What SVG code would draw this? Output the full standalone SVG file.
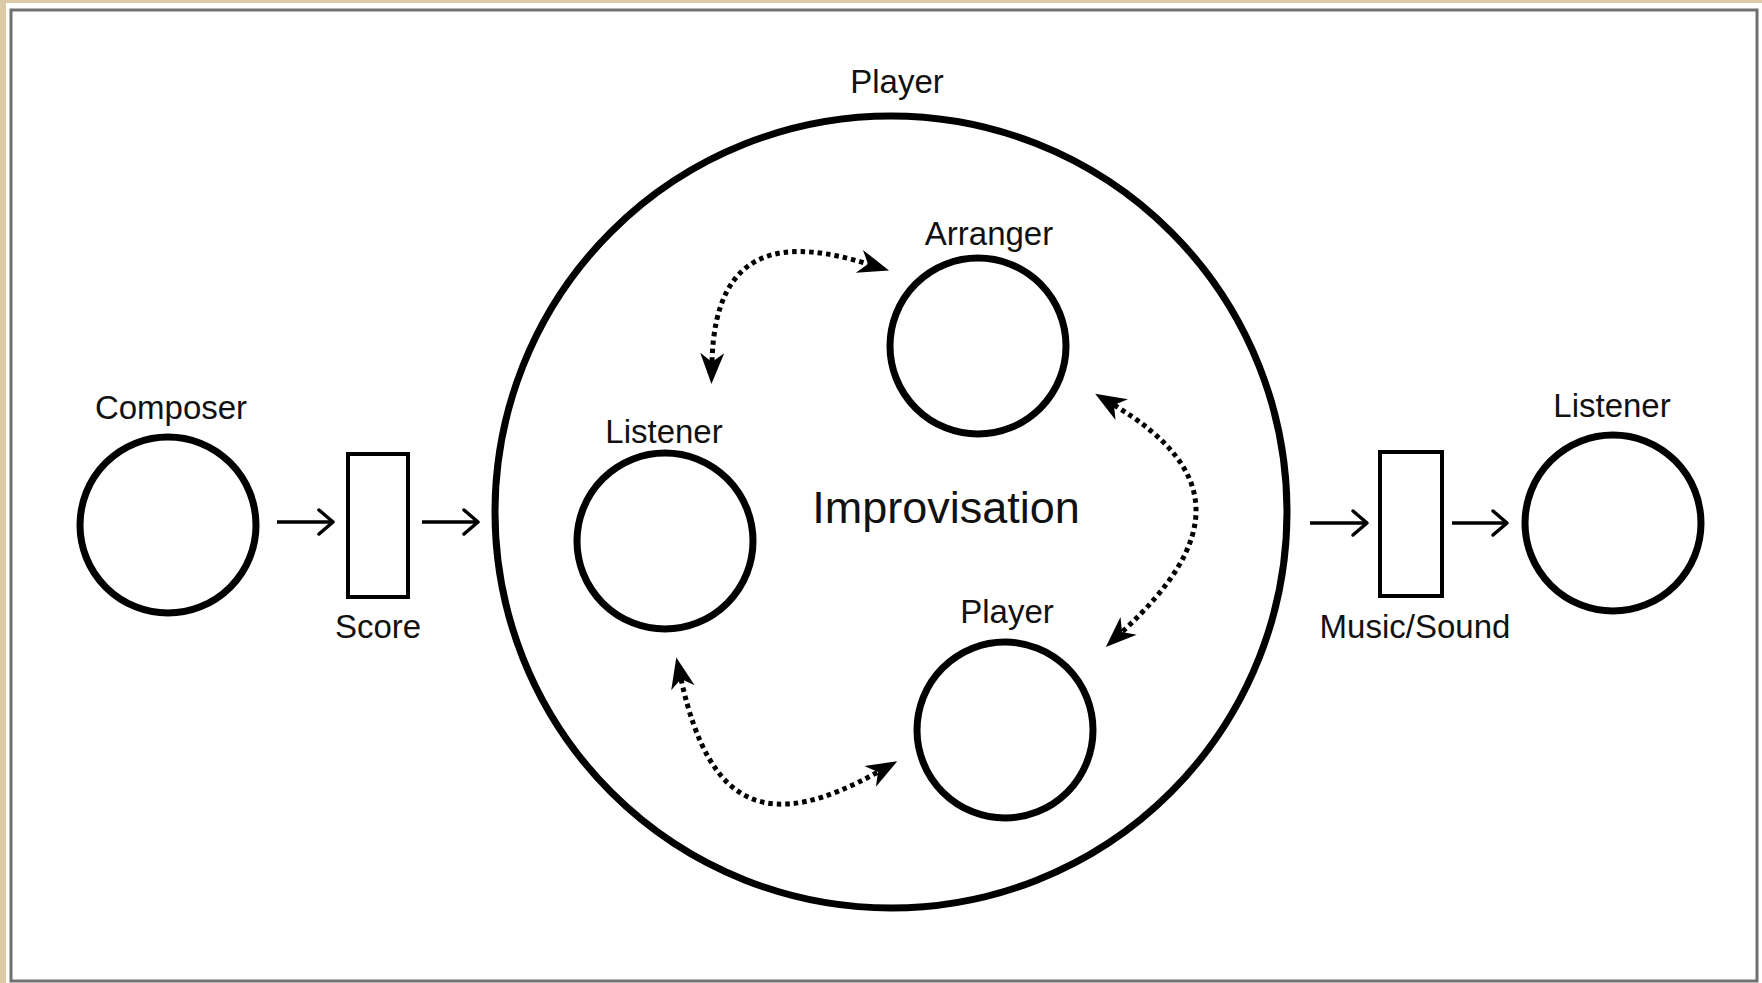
<svg xmlns="http://www.w3.org/2000/svg" width="1762" height="983" viewBox="0 0 1762 983">
<style>
  .node { fill: none; stroke: #000; stroke-width: 7; }
  .box { fill: #fff; stroke: #000; stroke-width: 4; }
  .lbl { font-family: "Liberation Sans", Arial, sans-serif; font-size: 33px; fill: #111; text-anchor: middle; }
  .big { font-size: 45px; }
  .flow { stroke: #000; stroke-width: 3.5; fill: none; marker-end: url(#open); }
  .dot { stroke: #000; stroke-width: 5; stroke-dasharray: 4.5 4; fill: none; marker-start: url(#solid); marker-end: url(#solid); }
</style>
<defs>
  <marker id="open" markerUnits="userSpaceOnUse" markerWidth="30" markerHeight="30" viewBox="0 0 30 30" refX="20" refY="15" orient="auto">
    <path d="M6,3 L20,15 L6,27" fill="none" stroke="#000" stroke-width="3.5" stroke-linecap="round" stroke-linejoin="round"/>
  </marker>
  <marker id="solid" markerUnits="userSpaceOnUse" markerWidth="34" markerHeight="28" viewBox="0 0 34 28" refX="9" refY="14" orient="auto-start-reverse">
    <path d="M0,2 L31,14 L0,26 L9,14 Z" fill="#000"/>
  </marker>
</defs>
<rect x="0" y="0" width="1762" height="983" fill="#dcc9a6"/>
<rect x="6" y="3" width="1756" height="980" fill="#fff"/>
<rect x="11" y="10" width="1746" height="971" fill="none" stroke="#707070" stroke-width="3"/>

<g id="improvisation">
  <circle cx="891" cy="512" r="396" class="node"/>
  <text x="897" y="93" class="lbl">Player</text>
  <text x="946" y="523" class="lbl big">Improvisation</text>
</g>
<g id="composer">
  <circle cx="168" cy="525" r="88" class="node"/>
  <text x="171" y="419" class="lbl">Composer</text>
</g>
<g id="score">
  <rect x="348" y="454" width="60" height="143" class="box"/>
  <text x="378" y="638" class="lbl">Score</text>
</g>
<g id="listener-inner">
  <circle cx="665" cy="541" r="88" class="node"/>
  <text x="664" y="443" class="lbl">Listener</text>
</g>
<g id="arranger">
  <circle cx="978" cy="346" r="88" class="node"/>
  <text x="989" y="245" class="lbl">Arranger</text>
</g>
<g id="player-inner">
  <circle cx="1005" cy="730" r="88" class="node"/>
  <text x="1007" y="623" class="lbl">Player</text>
</g>
<g id="music-sound">
  <rect x="1380" y="452" width="62" height="144" class="box"/>
  <text x="1415" y="638" class="lbl">Music/Sound</text>
</g>
<g id="listener-outer">
  <circle cx="1613" cy="523" r="88" class="node"/>
  <text x="1612" y="417" class="lbl">Listener</text>
</g>

<g id="connectors">
  <line x1="277" y1="522" x2="333" y2="522" class="flow"/>
  <line x1="422" y1="522" x2="478" y2="522" class="flow"/>
  <line x1="1310" y1="523" x2="1367" y2="523" class="flow"/>
  <line x1="1452" y1="523" x2="1507" y2="523" class="flow"/>
  <path d="M712,362 C715,240 790,240 868,264" class="dot"/>
  <path d="M1114,405 C1222,470 1222,540 1122,632" class="dot"/>
  <path d="M681,679 C710,812 770,832 878,772" class="dot"/>
</g>
</svg>
